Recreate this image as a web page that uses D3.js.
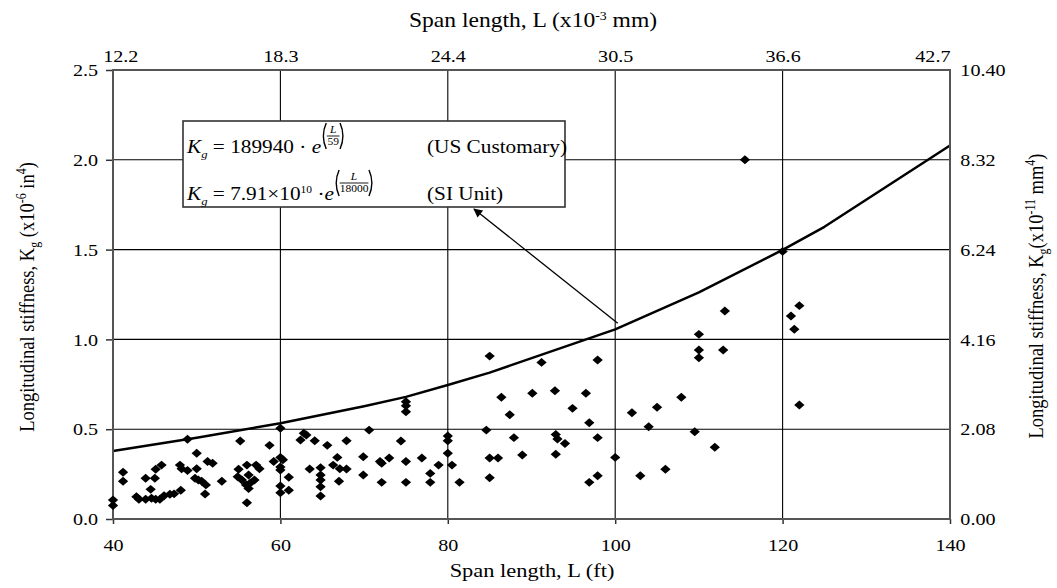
<!DOCTYPE html>
<html>
<head>
<meta charset="utf-8">
<script src="https://cdn.jsdelivr.net/npm/d3@7"></script>
<style>
  body { margin: 0; background: #fff; }
  svg { display: block; font-family: "Liberation Serif", "Times New Roman", serif; }
</style>
</head>
<body>
<svg id="chart" width="1057" height="588"></svg>
<script>
// span length (ft) and measured stiffness (x10^-6 in^4)
const spanFt = [40, 40, 41.2, 41.2, 42.8, 43.1, 43.9, 43.9, 44.5, 44.6, 45.0, 45.1, 45.1, 45.6, 45.8, 46.1, 46.8, 47.3, 48.0, 48.1,
  48.2, 48.9, 48.9, 50.0, 50.0, 49.8, 50.2, 50.6, 51.1, 51.0, 51.3, 51.9, 53.0, 55.0, 54.9, 55.2, 55.4, 56.0, 56.2, 55.9,
  56.4, 56.9, 57.1, 57.5, 56.0, 56.2, 58.7, 59.2, 60.0, 60.0, 60.3, 60.0, 60.0, 61.0, 60.0, 60.0, 61.0, 62.4, 62.8, 63.1,
  63.5, 64.1, 64.8, 64.8, 64.8, 64.8, 64.8, 65.6, 66.3, 66.8, 67.1, 67.9, 67.0, 67.9, 69.9, 69.9, 70.6, 71.9, 72.1, 73.0,
  72.1, 74.4, 75.0, 75.0, 75.0, 75.0, 75.0, 76.9, 77.9, 77.9, 78.9, 80.0, 80.0, 80.0, 80.5, 81.4, 84.6, 85.0, 85.0, 86.0,
  85.0, 86.4, 87.4, 87.9, 88.9, 90.1, 91.2, 92.8, 92.9, 93.1, 94.0, 92.9, 94.9, 96.5, 96.9, 97.9, 97.9, 96.9, 97.9, 100.0,
  102.0, 103.0, 104.0, 105.0, 106.0, 107.9, 109.5, 110.0, 110.0, 110.0, 111.9, 113.1, 112.9, 121.0, 122.0, 121.4, 122.0, 115.5, 120.0];
const stiffness = [0.106, 0.075, 0.26, 0.21, 0.124, 0.11, 0.227, 0.11, 0.165, 0.115, 0.227, 0.277, 0.11, 0.11, 0.30, 0.13, 0.138, 0.14, 0.30, 0.16,
  0.28, 0.27, 0.444, 0.366, 0.28, 0.227, 0.217, 0.21, 0.19, 0.139, 0.32, 0.31, 0.21, 0.277, 0.235, 0.434, 0.217, 0.30, 0.245, 0.19,
  0.20, 0.217, 0.30, 0.28, 0.09, 0.17, 0.41, 0.32, 0.505, 0.343, 0.33, 0.29, 0.273, 0.232, 0.184, 0.146, 0.16, 0.44, 0.477, 0.468,
  0.278, 0.436, 0.286, 0.245, 0.217, 0.18, 0.128, 0.41, 0.30, 0.343, 0.28, 0.278, 0.21, 0.436, 0.347, 0.245, 0.495, 0.32, 0.31, 0.34,
  0.204, 0.434, 0.32, 0.204, 0.653, 0.63, 0.597, 0.34, 0.254, 0.204, 0.30, 0.462, 0.436, 0.366, 0.30, 0.204, 0.495, 0.907, 0.34, 0.34,
  0.23, 0.678, 0.58, 0.453, 0.356, 0.70, 0.872, 0.714, 0.47, 0.445, 0.42, 0.36, 0.616, 0.70, 0.536, 0.885, 0.453, 0.204, 0.241, 0.343,
  0.592, 0.241, 0.514, 0.622, 0.277, 0.678, 0.486, 1.028, 0.941, 0.898, 0.40, 1.158, 0.941, 1.13, 1.188, 1.056, 0.635, 2.0, 1.49];

// fitted curve as drawn
const fitFt = [40, 50, 60, 70, 75, 80, 85, 100, 110, 120, 125, 140];
const fitK = [0.379, 0.453, 0.533, 0.628, 0.68, 0.746, 0.815, 1.056, 1.262, 1.498, 1.627, 2.08];

const bottomTicks = [40, 60, 80, 100, 120, 140];
const leftTicks = [0, 0.5, 1.0, 1.5, 2.0, 2.5];
const topTicks = [12.2, 18.3, 24.4, 30.5, 36.6, 42.7];
const rightTicks = [0, 2.08, 4.16, 6.24, 8.32, 10.40];

const plotL = 113, plotR = 950, plotT = 70, plotB = 519;
const SX = 1.15; // the picture is a little wider than tall

const svg = d3.select('#chart');
const x = d3.scaleLinear().domain([40, 140]).range([plotL, plotR]);
const y = d3.scaleLinear().domain([0, 2.5]).range([plotB, plotT]);
const xTop = d3.scaleLinear().domain([12.2, 42.7]).range([plotL, plotR]);
const yRight = d3.scaleLinear().domain([0, 10.40]).range([plotB, plotT]);

// grid
const grid = svg.append('g').attr('stroke', '#000').attr('stroke-width', 1.1);
grid.selectAll('.gx').data(bottomTicks.slice(1, -1)).enter().append('line')
  .attr('x1', d => x(d)).attr('x2', d => x(d)).attr('y1', plotT).attr('y2', plotB);
grid.selectAll('.gy').data(leftTicks.slice(1, -1)).enter().append('line')
  .attr('x1', plotL).attr('x2', plotR).attr('y1', d => y(d)).attr('y2', d => y(d));

function styleAxis(g) {
  g.select('.domain').remove();
  g.selectAll('.tick line').attr('stroke', '#333').attr('stroke-width', 1.5);
  g.selectAll('.tick text').attr('fill', '#000').attr('font-size', 17.5)
    .attr('font-family', '"Liberation Serif", serif')
    .attr('transform', `scale(${SX},1)`);
}

svg.append('g').attr('transform', `translate(0,${plotB})`)
  .call(d3.axisBottom(x).tickValues(bottomTicks).tickSize(5).tickPadding(15).tickFormat(d3.format('d')))
  .call(styleAxis);
svg.append('g').attr('transform', `translate(${plotL},0)`)
  .call(d3.axisLeft(y).tickValues(leftTicks).tickSize(7).tickPadding(6).tickFormat(d3.format('.1f')))
  .call(styleAxis);
svg.append('g').attr('transform', `translate(${plotR},0)`)
  .call(d3.axisRight(yRight).tickValues(rightTicks).tickSize(0).tickPadding(9).tickFormat(d3.format('.2f')))
  .call(styleAxis);
const topAxis = svg.append('g').attr('transform', `translate(0,${plotT})`)
  .call(d3.axisTop(xTop).tickValues(topTicks).tickSize(0).tickPadding(8).tickFormat(d3.format('.1f')))
  .call(styleAxis);
topAxis.selectAll('.tick text')
  .attr('text-anchor', (d, i) => i == 0 ? 'start' : (i == topTicks.length - 1 ? 'end' : 'middle'))
  .attr('x', (d, i) => i == 0 ? -9 : 0);

// fitted curve
const line = d3.line().x(d => x(d[0])).y(d => y(d[1]));
svg.append('path').datum(d3.zip(fitFt, fitK))
  .attr('d', line).attr('fill', 'none').attr('stroke', '#000').attr('stroke-width', 2.5)
  .attr('stroke-linejoin', 'round');

// frame
svg.append('rect').attr('x', plotL).attr('y', plotT).attr('width', plotR - plotL).attr('height', plotB - plotT)
  .attr('fill', 'none').attr('stroke', '#555').attr('stroke-width', 2);

// points
const diamond = d3.symbol(d3.symbolSquare).size(40);
svg.append('g').selectAll('path').data(d3.zip(spanFt, stiffness)).enter().append('path')
  .attr('d', diamond)
  .attr('transform', d => `translate(${x(d[0])},${y(d[1])}) scale(${SX},1) rotate(45)`)
  .attr('fill', '#000');

// text helper, stretched like the picture
function label(px, py, rot) {
  return svg.append('g')
    .attr('transform', `translate(${px},${py}) scale(${SX},1)` + (rot ? ' rotate(-90)' : ''))
    .append('text').attr('fill', '#000');
}

let t = label(532, 577).attr('font-size', 19.5).attr('text-anchor', 'middle');
t.text('Span length,  L (ft)');

t = label(533, 27).attr('font-size', 20.5).attr('text-anchor', 'middle');
t.append('tspan').text('Span length, L (x10');
t.append('tspan').attr('font-size', 12).attr('dy', -7).text('-3');
t.append('tspan').attr('dy', 7).text(' mm)');

t = label(34, 297, true).attr('font-size', 18.5).attr('text-anchor', 'middle');
t.append('tspan').text('Longitudinal stiffness, K');
t.append('tspan').attr('font-size', 12).attr('dy', 4).text('g');
t.append('tspan').attr('dy', -4).text(' (x10');
t.append('tspan').attr('font-size', 12).attr('dy', -7).text('-6');
t.append('tspan').attr('dy', 7).text(' in');
t.append('tspan').attr('font-size', 12).attr('dy', -7).text('4');
t.append('tspan').attr('dy', 7).text(')');

t = label(1043, 296, true).attr('font-size', 18.5).attr('text-anchor', 'middle');
t.append('tspan').text('Longitudinal stiffness, K');
t.append('tspan').attr('font-size', 12).attr('dy', 4).text('g');
t.append('tspan').attr('dy', -4).text('(x10');
t.append('tspan').attr('font-size', 12).attr('dy', -7).text('-11');
t.append('tspan').attr('dy', 7).text(' mm');
t.append('tspan').attr('font-size', 12).attr('dy', -7).text('4');
t.append('tspan').attr('dy', 7).text(')');

// equation box
svg.append('rect').attr('x', 183).attr('y', 121).attr('width', 382).attr('height', 86)
  .attr('fill', '#fff').attr('stroke', '#333').attr('stroke-width', 1.6);

function paren(g, px, y0, y1, dir) {
  const m = (y0 + y1) / 2;
  g.append('path')
    .attr('d', `M${px + 3.5 * dir},${y0} Q${px - 1.5 * dir},${m} ${px + 3.5 * dir},${y1}`)
    .attr('fill', 'none').attr('stroke', '#000').attr('stroke-width', 1.2);
}

function equation(px, py, build, num, den, fw, ey) {
  const g = svg.append('g').attr('transform', `translate(${px},${py}) scale(${SX},1)`);
  const txt = g.append('text').attr('font-size', 18.5).attr('fill', '#000');
  txt.append('tspan').attr('font-style', 'italic').text('K');
  txt.append('tspan').attr('font-style', 'italic').attr('font-size', 11).attr('dy', 5).text('g');
  build(txt);
  txt.append('tspan').attr('font-style', 'italic').text('e');
  const w = txt.node().getComputedTextLength() + 1;
  const ex = g.append('g').attr('transform', `translate(${w},${ey})`);
  paren(ex, 0, -30, -4, 1);
  ex.append('text').attr('x', 4 + fw / 2).attr('y', -20).attr('font-size', 10).attr('font-style', 'italic')
    .attr('text-anchor', 'middle').text(num);
  ex.append('line').attr('x1', 4).attr('x2', 4 + fw).attr('y1', -17).attr('y2', -17)
    .attr('stroke', '#000').attr('stroke-width', 0.9);
  ex.append('text').attr('x', 4 + fw / 2).attr('y', -8).attr('font-size', 10)
    .attr('text-anchor', 'middle').text(den);
  paren(ex, 8 + fw, -30, -4, -1);
}

equation(187, 153, txt => {
  txt.append('tspan').attr('dy', -5).text(' = 189940 · ');
}, 'L', '59', 11, 0);
equation(187, 200, txt => {
  txt.append('tspan').attr('dy', -5).text(' = 7.91×10');
  txt.append('tspan').attr('font-size', 10).attr('dy', -7).text('10');
  txt.append('tspan').attr('dy', 7).text(' ·');
}, 'L', '18000', 25, 0);

label(427, 153).attr('font-size', 18.5).text('(US Customary)');
label(427, 200).attr('font-size', 18.5).text('(SI Unit)');

// arrow pointing at the box
svg.append('defs').append('marker').attr('id', 'head')
  .attr('viewBox', '0 0 10 10').attr('refX', 9).attr('refY', 5)
  .attr('markerWidth', 12).attr('markerHeight', 9).attr('markerUnits', 'userSpaceOnUse')
  .attr('orient', 'auto')
  .append('path').attr('d', 'M0,0 L10,5 L0,10 z').attr('fill', '#000');
svg.append('line').attr('x1', x(100.3)).attr('y1', y(1.09)).attr('x2', 474).attr('y2', 209)
  .attr('stroke', '#000').attr('stroke-width', 1.3).attr('marker-end', 'url(#head)');
</script>
</body>
</html>
